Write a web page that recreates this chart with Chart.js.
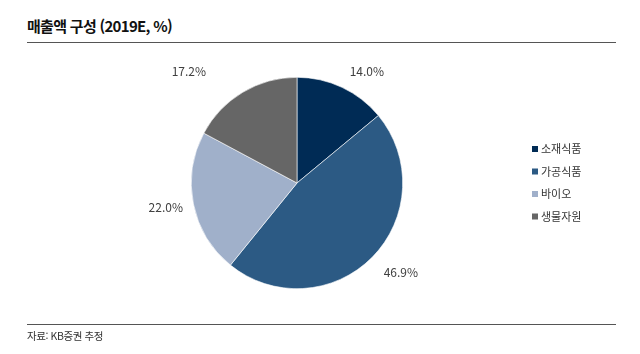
<!DOCTYPE html>
<html lang="ko">
<head>
<meta charset="utf-8">
<script src="https://cdn.jsdelivr.net/npm/chart.js@4.4.1/dist/chart.umd.min.js"></script>
<style>
  html, body { margin: 0; padding: 0; background: #fff; }
  body { width: 640px; height: 354px; position: relative; overflow: hidden;
         font-family: "Noto Sans CJK KR", "Noto Sans", sans-serif; }
  .title { position: absolute; left: 27px; top: 15px; font-size: 15px; font-weight: bold;
           color: #111; letter-spacing: -0.7px; }
  .rule { position: absolute; left: 27px; width: 589px; height: 1px; background: #555; }
  .source { position: absolute; left: 27px; top: 328px; font-size: 10.5px; color: #333;
            letter-spacing: -0.4px; }
  #wrap { position: absolute; left: 0; top: 0; width: 640px; height: 354px; }
</style>
</head>
<body>
<div class="title">매출액 구성 (2019E, %)</div>
<div class="rule" style="top:42px"></div>
<div id="wrap"><canvas id="pieChart" width="640" height="354"></canvas></div>
<div class="rule" style="top:324px"></div>
<div class="source">자료: KB증권 추정</div>

<script>
/* ---- data ---- */
const categories = ['소재식품', '가공식품', '바이오', '생물자원'];
const shares     = [14.0, 46.9, 22.0, 17.2];
const colors     = ['#002b55', '#2c5a84', '#a0b0ca', '#666666'];

/* label nudges (px) to follow the reference's hand placement */
const labelNudge = [[14, 7], [8, -5], [2, -2], [-40, 2]];

/* ---- outside value labels ---- */
const outsideLabels = {
  id: 'outsideLabels',
  afterDatasetsDraw(chart) {
    const ctx = chart.ctx;
    const meta = chart.getDatasetMeta(0);
    ctx.save();
    ctx.font = '12px "Noto Sans CJK KR", "Noto Sans", sans-serif';
    ctx.fillStyle = '#404040';
    ctx.textBaseline = 'middle';
    ctx.textAlign = 'center';
    meta.data.forEach((arc, i) => {
      const mid = (arc.startAngle + arc.endAngle) / 2;
      const txt = shares[i].toFixed(1) + '%';
      const w = ctx.measureText(txt).width;
      const h = 14;
      const cx = Math.cos(mid), cy = Math.sin(mid);
      const dist = arc.outerRadius + 12 + Math.abs(cx) * w / 2 + Math.abs(cy) * h / 2;
      const x = arc.x + cx * dist + labelNudge[i][0];
      const y = arc.y + cy * dist + labelNudge[i][1];
      ctx.fillText(txt, x, y);
    });
    ctx.restore();
  }
};

/* ---- legend on the right ---- */
const sideLegend = {
  id: 'sideLegend',
  afterDraw(chart) {
    const ctx = chart.ctx;
    ctx.save();
    ctx.font = '11px "Noto Sans CJK KR", "Noto Sans", sans-serif';
    ctx.textBaseline = 'middle';
    ctx.textAlign = 'left';
    categories.forEach((name, i) => {
      const y = 149 + i * 22.5;
      ctx.fillStyle = colors[i];
      ctx.fillRect(532, y - 3, 6, 6);
      ctx.fillStyle = '#333';
      ctx.fillText(name, 541, y);
    });
    ctx.restore();
  }
};

new Chart(document.getElementById('pieChart'), {
  type: 'pie',
  data: {
    labels: categories,
    datasets: [{
      data: shares,
      backgroundColor: colors,
      borderColor: '#ffffff',
      borderWidth: 0.6
    }]
  },
  options: {
    responsive: false,
    animation: false,
    layout: { padding: { left: 191, top: 77, right: 237, bottom: 65 } },
    plugins: {
      legend: { display: false },
      tooltip: { enabled: false }
    }
  },
  plugins: [outsideLabels, sideLegend]
});
</script>
</body>
</html>
